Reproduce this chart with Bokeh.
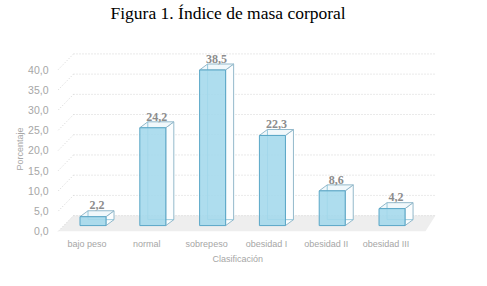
from bokeh.plotting import figure
from bokeh.models import Range1d, LinearAxis, FixedTicker, Title, ColumnDataSource
from bokeh.embed import file_html
from bokeh.resources import INLINE

# ---- data ----
categories = ["bajo peso", "normal", "sobrepeso", "obesidad I", "obesidad II", "obesidad III"]
values = [2.2, 24.2, 38.5, 22.3, 8.6, 4.2]
value_labels = ["2,2", "24,2", "38,5", "22,3", "8,6", "4,2"]
y_ticks = [0, 5, 10, 15, 20, 25, 30, 35, 40]
y_tick_labels = ["0,0", "5,0", "10,0", "15,0", "20,0", "25,0", "30,0", "35,0", "40,0"]
title_text = "Figura 1. Índice de masa corporal"
x_title = "Clasificación"
y_title = "Porcentaje"

# ---- layout / style constants (pseudo-3D perspective) ----
X_START, X_END = -0.627, 5.894
Y_START, Y_END = -2.70, 50.24
AXIS_SHIFT = -1.40     # front (label) plane relative to bar base
WALL_SHIFT = 2.47      # back wall relative to bar base
LABEL_SHIFT = 0.10     # category labels sit slightly left of bar fronts
BAR_W = 0.435
DX, DY = 0.134, 1.47   # depth of the boxes
SIDE_X = -0.58
WALL_L, WALL_R = -0.326, 5.727
FLOOR_FR = 5.56

FRONT_FILL = "#a3d8ec"
FRONT_LINE = "#5aa7c7"
SIDE_FILL = "#fbfdfe"
EDGE = "#93b9cb"
GREY = "#a6a6a6"

p = figure(width=487, height=286, output_backend="svg", toolbar_location=None,
           x_axis_type=None, y_axis_type=None,
           x_range=Range1d(X_START, X_END), y_range=Range1d(Y_START, Y_END),
           min_border_left=55, min_border_right=42, min_border_top=20, min_border_bottom=50)
p.outline_line_color = None
p.background_fill_color = "white"
p.border_fill_color = "white"

p.extra_y_ranges = {"axis": Range1d(Y_START - AXIS_SHIFT, Y_END - AXIS_SHIFT)}
p.extra_x_ranges = {"xlab": Range1d(X_START + LABEL_SHIFT, X_END + LABEL_SHIFT)}

# floor
p.patch([SIDE_X, WALL_L, WALL_R, FLOOR_FR],
        [AXIS_SHIFT, WALL_SHIFT, WALL_SHIFT, AXIS_SHIFT],
        fill_color="#eeeeee", line_color=None)

# back-wall gridlines and side-wall slanted lines
wall_y = [v + WALL_SHIFT for v in y_ticks]
front_y = [v + AXIS_SHIFT for v in y_ticks]
p.segment(x0=[WALL_L] * len(y_ticks), x1=[WALL_R] * len(y_ticks), y0=wall_y, y1=wall_y,
          line_color="#d4d4d4", line_dash="1 2", line_width=1)
p.segment(x0=[SIDE_X] * len(y_ticks), x1=[WALL_L] * len(y_ticks), y0=front_y, y1=wall_y,
          line_color="#d4d4d4", line_dash="1 2", line_width=1)

# bars as boxes
xs = list(range(len(categories)))
side_xs, side_ys, top_xs, top_ys = [], [], [], []
for i, v in zip(xs, values):
    r = i + BAR_W / 2
    l = i - BAR_W / 2
    side_xs.append([r, r + DX, r + DX, r])
    side_ys.append([0, DY, v + DY, v])
    top_xs.append([l, r, r + DX, l + DX])
    top_ys.append([v, v, v + DY, v + DY])
p.patches(side_xs, side_ys, fill_color=SIDE_FILL, line_color=EDGE, line_width=1)
p.patches(top_xs, top_ys, fill_color="#f1f8fb", line_color=EDGE, line_width=1)
# hidden back edges seen through the translucent front
bl = [i - BAR_W / 2 + DX for i in xs]
p.segment(x0=bl, x1=bl, y0=[DY] * len(xs), y1=[v + DY for v in values],
          line_color="#6fb3cf", line_width=1, line_alpha=0.7)
p.segment(x0=bl, x1=[i + BAR_W / 2 + DX for i in xs], y0=[DY] * len(xs), y1=[DY] * len(xs),
          line_color="#6fb3cf", line_width=1, line_alpha=0.7)
p.vbar(x=xs, top=values, bottom=0, width=BAR_W, fill_color=FRONT_FILL, fill_alpha=0.88,
       line_color=FRONT_LINE, line_width=1)

# value labels
src = ColumnDataSource(dict(x=[i + DX / 2 for i in xs], y=[v + DY + 1.3 for v in values],
                            t=value_labels))
p.text(x="x", y="y", text="t", source=src, text_align="center", text_baseline="alphabetic",
       text_font="Liberation Sans", text_font_size="12px", text_font_style="bold",
       text_color="#8c8c8c")

# axes
yax = LinearAxis(y_range_name="axis", ticker=FixedTicker(ticks=y_ticks))
yax.major_label_overrides = {t: s for t, s in zip(y_ticks, y_tick_labels)}
yax.axis_line_color = None
yax.major_tick_line_color = None
yax.minor_tick_line_color = None
yax.major_tick_out = 0
yax.major_tick_in = 0
yax.minor_tick_out = 0
yax.major_label_standoff = 7
yax.major_label_text_font = "Liberation Sans"
yax.major_label_text_font_size = "10.5px"
yax.major_label_text_color = GREY
p.add_layout(yax, "left")

xax = LinearAxis(x_range_name="xlab", ticker=FixedTicker(ticks=xs))
xax.major_label_overrides = {i: c for i, c in zip(xs, categories)}
xax.axis_line_color = None
xax.major_tick_line_color = None
xax.minor_tick_line_color = None
xax.major_tick_out = 0
xax.major_tick_in = 0
xax.minor_tick_out = 0
xax.major_label_standoff = 2
xax.major_label_text_font = "Liberation Sans"
xax.major_label_text_font_size = "9px"
xax.major_label_text_color = GREY
p.add_layout(xax, "below")

xt = Title(text=x_title, align="left", offset=157, text_font="Liberation Sans",
           text_font_size="9px", text_color=GREY, text_font_style="normal", standoff=0)
p.add_layout(xt, "below")
yt = Title(text=y_title, align="left", offset=66, text_font="Liberation Sans",
           text_font_size="9px", text_color=GREY, text_font_style="normal", standoff=2)
p.add_layout(yt, "left")

p.title.text = title_text
p.title.align = "left"
p.title.offset = 55
p.title.text_font = "Liberation Serif"
p.title.text_font_size = "17.5px"
p.title.text_font_style = "normal"
p.title.text_color = "black"
p.title.standoff = 0

open("out.html", "w").write(file_html(p, INLINE))
